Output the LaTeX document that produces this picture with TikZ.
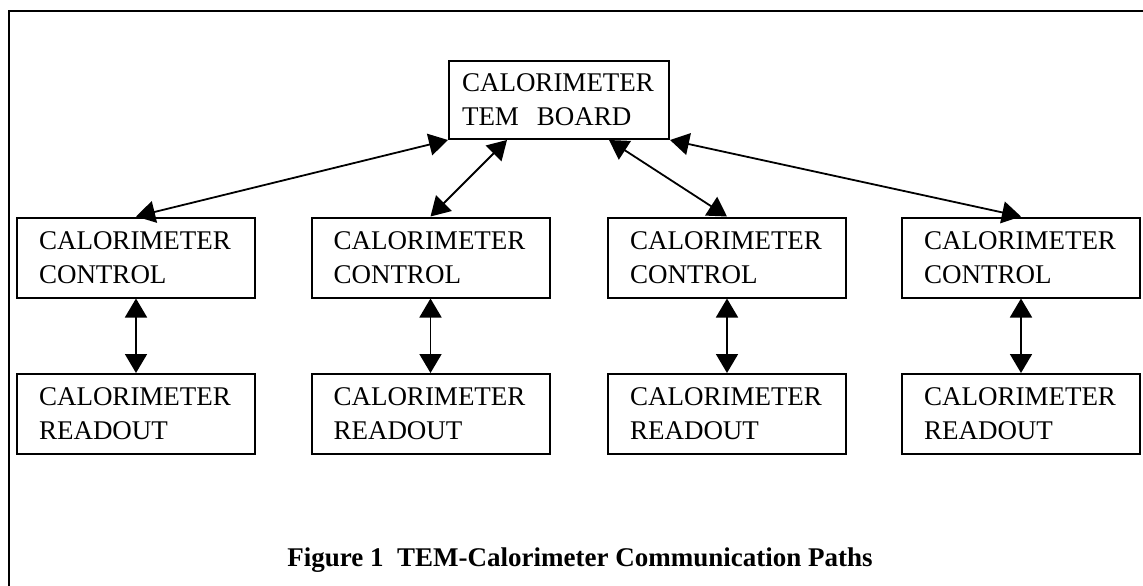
\documentclass[tikz,border=0pt]{standalone}
\usepackage{fontspec}
\setmainfont{Liberation Serif}
\usepackage{tikz}
\usetikzlibrary{
    arrows.meta,
    positioning
}
\tikzstyle{unit} = [
    rectangle,
    draw=black,
    line width=2pt,
    text width=194pt,
    inner xsep=22pt,
    inner ysep=0pt,
    minimum height=80pt,
    align=left,
    font=\fontsize{27}{34}\selectfont
]
\tikzstyle{board} = [
    unit,
    inner xsep=13pt,
    minimum height=78pt
]
\tikzstyle{link} = [
    {Triangle[length=19pt,width=22pt]}-{Triangle[length=19pt,width=22pt]},
    line width=1.8pt,
    draw=black
]

\begin{document}
\begin{tikzpicture}[x=1pt, y=-1pt]
        \useasboundingbox (0,0) rectangle (1143,586);

        % Frame
        \draw[line width=2.5pt] (9,586) -- (9,11) -- (1143,11);

        % TEM board
        \node[board] (tem) at (559, 100) {CALORIMETER\\TEM\ \ BOARD};

        % Controls
        \node[unit] (ctrlA) at (136, 257.5) {CALORIMETER\\CONTROL};
        \node[unit] (ctrlB) at (430.5, 257.5) {CALORIMETER\\CONTROL};
        \node[unit] (ctrlC) at (727, 257.5) {CALORIMETER\\CONTROL};
        \node[unit] (ctrlD) at (1021, 257.5) {CALORIMETER\\CONTROL};

        % Readouts
        \node[unit] (readA) at (136, 414) {CALORIMETER\\READOUT};
        \node[unit] (readB) at (430.5, 414) {CALORIMETER\\READOUT};
        \node[unit] (readC) at (727, 414) {CALORIMETER\\READOUT};
        \node[unit] (readD) at (1021, 414) {CALORIMETER\\READOUT};

        % Caption
        \node[font=\fontsize{27}{33}\selectfont\bfseries] (caption) at (580, 560)
            {Figure 1\ \ TEM-Calorimeter Communication Paths};

        % Arrows
        \draw[link] (tem.south west) -- (ctrlA.north);
        \draw[link] ([xshift=59pt]tem.south west) -- (ctrlB.north);
        \draw[link] ([xshift=-61pt]tem.south east) -- (ctrlC.north);
        \draw[link] (tem.south east) -- (ctrlD.north);
        \draw[link] (ctrlA) -- (readA);
        \draw[link] (ctrlB) -- (readB);
        \draw[link] (ctrlC) -- (readC);
        \draw[link] (ctrlD) -- (readD);
    \end{tikzpicture}
\end{document}
